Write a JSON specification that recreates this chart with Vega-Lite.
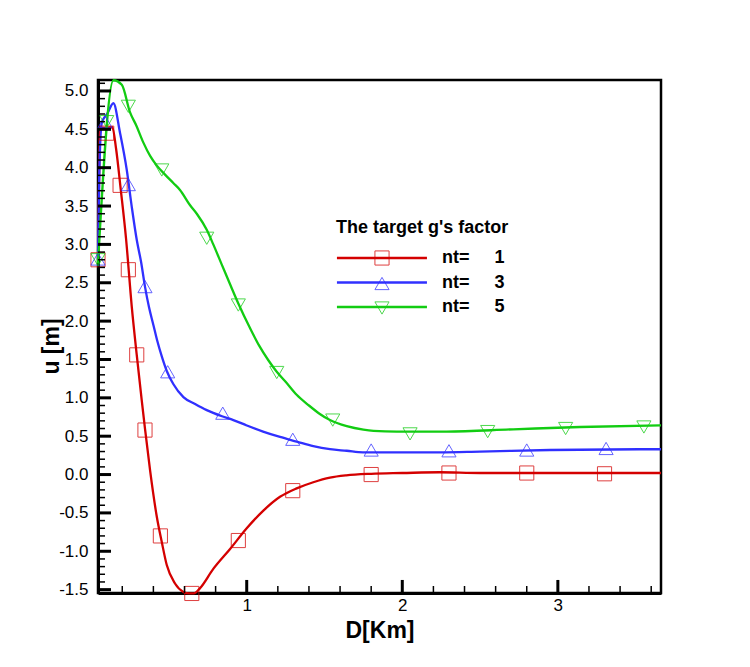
{
  "$schema": "https://vega.github.io/schema/vega-lite/v6.json",
  "width": 563,
  "height": 513,
  "autosize": {"type": "none"},
  "padding": {"left": 98, "top": 80, "right": 89, "bottom": 74},
  "background": "white",
  "config": {
    "font": "Liberation Sans",
    "view": {"stroke": "black", "strokeWidth": 2.5},
    "axis": {"grid": false, "ticks": false}
  },
  "datasets": {
    "curves": [
      {"nt": "1", "d": 0.044, "v": 2.80}, {"nt": "1", "d": 0.050, "v": 3.70}, {"nt": "1", "d": 0.058, "v": 4.52},
      {"nt": "1", "d": 0.100, "v": 4.52}, {"nt": "1", "d": 0.136, "v": 4.53}, {"nt": "1", "d": 0.160, "v": 4.25},
      {"nt": "1", "d": 0.190, "v": 3.72}, {"nt": "1", "d": 0.224, "v": 3.08}, {"nt": "1", "d": 0.261, "v": 2.19},
      {"nt": "1", "d": 0.293, "v": 1.56}, {"nt": "1", "d": 0.325, "v": 0.97}, {"nt": "1", "d": 0.346, "v": 0.60},
      {"nt": "1", "d": 0.379, "v": 0.05}, {"nt": "1", "d": 0.422, "v": -0.55}, {"nt": "1", "d": 0.454, "v": -0.88},
      {"nt": "1", "d": 0.486, "v": -1.18}, {"nt": "1", "d": 0.539, "v": -1.42}, {"nt": "1", "d": 0.593, "v": -1.53},
      {"nt": "1", "d": 0.630, "v": -1.55}, {"nt": "1", "d": 0.660, "v": -1.55}, {"nt": "1", "d": 0.700, "v": -1.48},
      {"nt": "1", "d": 0.785, "v": -1.23}, {"nt": "1", "d": 0.893, "v": -0.97}, {"nt": "1", "d": 1.000, "v": -0.70},
      {"nt": "1", "d": 1.107, "v": -0.47}, {"nt": "1", "d": 1.214, "v": -0.29}, {"nt": "1", "d": 1.321, "v": -0.18},
      {"nt": "1", "d": 1.428, "v": -0.10}, {"nt": "1", "d": 1.535, "v": -0.04}, {"nt": "1", "d": 1.640, "v": -0.01},
      {"nt": "1", "d": 1.800, "v": 0.01}, {"nt": "1", "d": 2.000, "v": 0.02}, {"nt": "1", "d": 2.240, "v": 0.03},
      {"nt": "1", "d": 2.500, "v": 0.02}, {"nt": "1", "d": 3.000, "v": 0.02}, {"nt": "1", "d": 3.663, "v": 0.02},

      {"nt": "3", "d": 0.044, "v": 2.80}, {"nt": "3", "d": 0.052, "v": 3.90}, {"nt": "3", "d": 0.068, "v": 4.58},
      {"nt": "3", "d": 0.105, "v": 4.71}, {"nt": "3", "d": 0.143, "v": 4.84}, {"nt": "3", "d": 0.186, "v": 4.45},
      {"nt": "3", "d": 0.229, "v": 3.97}, {"nt": "3", "d": 0.261, "v": 3.49}, {"nt": "3", "d": 0.293, "v": 3.06},
      {"nt": "3", "d": 0.321, "v": 2.77}, {"nt": "3", "d": 0.346, "v": 2.45}, {"nt": "3", "d": 0.372, "v": 2.18},
      {"nt": "3", "d": 0.400, "v": 1.95}, {"nt": "3", "d": 0.424, "v": 1.75}, {"nt": "3", "d": 0.454, "v": 1.54},
      {"nt": "3", "d": 0.486, "v": 1.35}, {"nt": "3", "d": 0.528, "v": 1.18}, {"nt": "3", "d": 0.593, "v": 1.01},
      {"nt": "3", "d": 0.668, "v": 0.92}, {"nt": "3", "d": 0.743, "v": 0.84}, {"nt": "3", "d": 0.841, "v": 0.76},
      {"nt": "3", "d": 0.914, "v": 0.71}, {"nt": "3", "d": 1.000, "v": 0.64}, {"nt": "3", "d": 1.105, "v": 0.56},
      {"nt": "3", "d": 1.214, "v": 0.49}, {"nt": "3", "d": 1.321, "v": 0.43}, {"nt": "3", "d": 1.428, "v": 0.37},
      {"nt": "3", "d": 1.535, "v": 0.33}, {"nt": "3", "d": 1.643, "v": 0.31}, {"nt": "3", "d": 1.747, "v": 0.29},
      {"nt": "3", "d": 1.857, "v": 0.29}, {"nt": "3", "d": 2.242, "v": 0.29}, {"nt": "3", "d": 2.499, "v": 0.30},
      {"nt": "3", "d": 2.949, "v": 0.32}, {"nt": "3", "d": 3.527, "v": 0.33}, {"nt": "3", "d": 3.663, "v": 0.33},

      {"nt": "5", "d": 0.044, "v": 2.75}, {"nt": "5", "d": 0.143, "v": 5.14}, {"nt": "5", "d": 0.197, "v": 5.08},
      {"nt": "5", "d": 0.250, "v": 4.72}, {"nt": "5", "d": 0.290, "v": 4.55}, {"nt": "5", "d": 0.335, "v": 4.33},
      {"nt": "5", "d": 0.380, "v": 4.15}, {"nt": "5", "d": 0.421, "v": 4.03}, {"nt": "5", "d": 0.475, "v": 3.91},
      {"nt": "5", "d": 0.528, "v": 3.80}, {"nt": "5", "d": 0.571, "v": 3.71}, {"nt": "5", "d": 0.636, "v": 3.51},
      {"nt": "5", "d": 0.679, "v": 3.40}, {"nt": "5", "d": 0.743, "v": 3.19}, {"nt": "5", "d": 0.785, "v": 3.00},
      {"nt": "5", "d": 0.839, "v": 2.74}, {"nt": "5", "d": 0.893, "v": 2.48}, {"nt": "5", "d": 0.946, "v": 2.23},
      {"nt": "5", "d": 1.021, "v": 1.91}, {"nt": "5", "d": 1.080, "v": 1.68}, {"nt": "5", "d": 1.139, "v": 1.49},
      {"nt": "5", "d": 1.193, "v": 1.34}, {"nt": "5", "d": 1.250, "v": 1.21}, {"nt": "5", "d": 1.321, "v": 1.04},
      {"nt": "5", "d": 1.400, "v": 0.90}, {"nt": "5", "d": 1.470, "v": 0.79}, {"nt": "5", "d": 1.535, "v": 0.71},
      {"nt": "5", "d": 1.643, "v": 0.63}, {"nt": "5", "d": 1.750, "v": 0.585}, {"nt": "5", "d": 1.815, "v": 0.57},
      {"nt": "5", "d": 1.964, "v": 0.56}, {"nt": "5", "d": 2.285, "v": 0.56}, {"nt": "5", "d": 2.713, "v": 0.59},
      {"nt": "5", "d": 3.142, "v": 0.62}, {"nt": "5", "d": 3.663, "v": 0.64}
    ],
    "symbols": [
      {"curve": "1", "d": 0.044, "v": 2.80}, {"curve": "1", "d": 0.100, "v": 4.45}, {"curve": "1", "d": 0.186, "v": 3.77},
      {"curve": "1", "d": 0.239, "v": 2.67}, {"curve": "1", "d": 0.293, "v": 1.56}, {"curve": "1", "d": 0.346, "v": 0.58},
      {"curve": "1", "d": 0.445, "v": -0.80}, {"curve": "1", "d": 0.647, "v": -1.55}, {"curve": "1", "d": 0.946, "v": -0.86},
      {"curve": "1", "d": 1.296, "v": -0.21}, {"curve": "1", "d": 1.800, "v": 0.00}, {"curve": "1", "d": 2.300, "v": 0.02},
      {"curve": "1", "d": 2.800, "v": 0.02}, {"curve": "1", "d": 3.300, "v": 0.01},

      {"curve": "3", "d": 0.044, "v": 2.81}, {"curve": "3", "d": 0.089, "v": 4.60}, {"curve": "3", "d": 0.239, "v": 3.78},
      {"curve": "3", "d": 0.346, "v": 2.45}, {"curve": "3", "d": 0.492, "v": 1.34}, {"curve": "3", "d": 0.846, "v": 0.80},
      {"curve": "3", "d": 1.296, "v": 0.46}, {"curve": "3", "d": 1.800, "v": 0.32}, {"curve": "3", "d": 2.300, "v": 0.31},
      {"curve": "3", "d": 2.800, "v": 0.32}, {"curve": "3", "d": 3.310, "v": 0.34},

      {"curve": "5", "d": 0.044, "v": 2.80}, {"curve": "5", "d": 0.100, "v": 4.60}, {"curve": "5", "d": 0.239, "v": 4.80},
      {"curve": "5", "d": 0.454, "v": 3.97}, {"curve": "5", "d": 0.743, "v": 3.08}, {"curve": "5", "d": 0.946, "v": 2.21},
      {"curve": "5", "d": 1.193, "v": 1.33}, {"curve": "5", "d": 1.553, "v": 0.71}, {"curve": "5", "d": 2.050, "v": 0.53},
      {"curve": "5", "d": 2.549, "v": 0.56}, {"curve": "5", "d": 3.050, "v": 0.60}, {"curve": "5", "d": 3.553, "v": 0.62}
    ],
    "xMajor": [{"d": 1}, {"d": 2}, {"d": 3}],
    "xMinor": [
      {"d": 0.2}, {"d": 0.4}, {"d": 0.6}, {"d": 0.8}, {"d": 1.2}, {"d": 1.4}, {"d": 1.6}, {"d": 1.8},
      {"d": 2.2}, {"d": 2.4}, {"d": 2.6}, {"d": 2.8}, {"d": 3.2}, {"d": 3.4}, {"d": 3.6}
    ],
    "yMajor": [
      {"v": -1.5}, {"v": -1.0}, {"v": -0.5}, {"v": 0.0}, {"v": 0.5}, {"v": 1.0}, {"v": 1.5},
      {"v": 2.0}, {"v": 2.5}, {"v": 3.0}, {"v": 3.5}, {"v": 4.0}, {"v": 4.5}, {"v": 5.0}
    ],
    "yMinor": [
      {"v": -1.4}, {"v": -1.3}, {"v": -1.2}, {"v": -1.1}, {"v": -0.9}, {"v": -0.8}, {"v": -0.7}, {"v": -0.6},
      {"v": -0.4}, {"v": -0.3}, {"v": -0.2}, {"v": -0.1}, {"v": 0.1}, {"v": 0.2}, {"v": 0.3}, {"v": 0.4},
      {"v": 0.6}, {"v": 0.7}, {"v": 0.8}, {"v": 0.9}, {"v": 1.1}, {"v": 1.2}, {"v": 1.3}, {"v": 1.4},
      {"v": 1.6}, {"v": 1.7}, {"v": 1.8}, {"v": 1.9}, {"v": 2.1}, {"v": 2.2}, {"v": 2.3}, {"v": 2.4},
      {"v": 2.6}, {"v": 2.7}, {"v": 2.8}, {"v": 2.9}, {"v": 3.1}, {"v": 3.2}, {"v": 3.3}, {"v": 3.4},
      {"v": 3.6}, {"v": 3.7}, {"v": 3.8}, {"v": 3.9}, {"v": 4.1}, {"v": 4.2}, {"v": 4.3}, {"v": 4.4},
      {"v": 4.6}, {"v": 4.7}, {"v": 4.8}, {"v": 4.9}, {"v": 5.1}
    ]
  },
  "resolve": {"axis": {"x": "independent", "y": "independent"}},
  "layer": [
    {
      "data": {"name": "curves"},
      "mark": {"type": "line", "strokeWidth": 2.3, "interpolate": "monotone"},
      "encoding": {
        "x": {
          "field": "d", "type": "quantitative",
          "scale": {"domain": [0.044, 3.663], "nice": false, "zero": false},
          "axis": {
            "orient": "bottom", "values": [1, 2, 3], "format": "d", "grid": false, "ticks": false,
            "labelOverlap": false,
            "title": "D[Km]", "titleFontSize": 23, "titleFontWeight": "bold", "titleColor": "black",
            "titleBaseline": "alphabetic", "titleY": 44,
            "labelFontSize": 17, "labelColor": "black", "labelPadding": 4,
            "domainColor": "black", "domainWidth": 3
          }
        },
        "y": {
          "field": "v", "type": "quantitative",
          "scale": {"domain": [-1.544, 5.143], "nice": false, "zero": false},
          "axis": {
            "orient": "left",
            "values": [-1.5, -1, -0.5, 0, 0.5, 1, 1.5, 2, 2.5, 3, 3.5, 4, 4.5, 5],
            "format": ".1f", "grid": false, "ticks": false, "labelOverlap": false,
            "labelExpr": "replace(datum.label, '\u2212', '-')",
            "title": "u [m]", "titleFontSize": 23, "titleFontWeight": "bold", "titleColor": "black",
            "titleAngle": 270, "titleAlign": "center", "titleBaseline": "middle",
            "titleX": -47, "titleY": 266,
            "labelFontSize": 17, "labelColor": "black", "labelPadding": 10,
            "domainColor": "black", "domainWidth": 3
          }
        },
        "color": {
          "field": "nt", "type": "nominal",
          "scale": {"range": ["#d40000", "#3030ff", "#12cc12"]},
          "legend": {
            "orient": "none", "legendX": 238, "legendY": 139, "padding": 0,
            "title": "The target g's factor", "titleFontSize": 18, "titleFontWeight": "bold",
            "titleColor": "black", "titlePadding": 12,
            "symbolType": "M-1.14,0H11.59", "symbolSize": 200, "symbolStrokeWidth": 2.3,
            "labelExpr": "'nt=\u00a0\u00a0\u00a0\u00a0\u00a0' + datum.label",
            "labelFontSize": 18, "labelFontWeight": "bold", "labelColor": "black",
            "labelOffset": 88, "rowPadding": 6.5
          }
        }
      }
    },
    {
      "data": {"name": "symbols"},
      "mark": {"type": "point", "filled": false, "size": 200, "strokeWidth": 1, "opacity": 0.75},
      "encoding": {
        "x": {"field": "d", "type": "quantitative", "axis": null},
        "y": {"field": "v", "type": "quantitative", "axis": null},
        "shape": {
          "field": "curve", "type": "nominal",
          "scale": {"range": ["square", "triangle-up", "triangle-down"]},
          "legend": {
            "orient": "none", "legendX": 275, "legendY": 169, "padding": 0,
            "title": null,
            "symbolSize": 200, "symbolStrokeWidth": 1, "symbolOpacity": 0.75,
            "labelExpr": "''", "labelFontSize": 18, "labelOffset": 88, "rowPadding": 6.5
          }
        },
        "stroke": {
          "field": "curve", "type": "nominal",
          "scale": {"range": ["#d40000", "#3030ff", "#12cc12"]},
          "legend": {
            "orient": "none", "legendX": 275, "legendY": 169, "padding": 0,
            "title": null,
            "symbolSize": 200, "symbolStrokeWidth": 1, "symbolOpacity": 0.75,
            "labelExpr": "''", "labelFontSize": 18, "labelOffset": 88, "rowPadding": 6.5
          }
        }
      }
    },
    {
      "data": {"name": "xMajor"},
      "mark": {"type": "rule", "color": "black", "strokeWidth": 3},
      "encoding": {
        "x": {"field": "d", "type": "quantitative", "axis": null},
        "y": {"datum": -1.544, "type": "quantitative", "axis": null},
        "y2": {"datum": -1.374}
      }
    },
    {
      "data": {"name": "xMinor"},
      "mark": {"type": "rule", "color": "black", "strokeWidth": 1.5},
      "encoding": {
        "x": {"field": "d", "type": "quantitative", "axis": null},
        "y": {"datum": -1.544, "type": "quantitative", "axis": null},
        "y2": {"datum": -1.453}
      }
    },
    {
      "data": {"name": "yMajor"},
      "mark": {"type": "rule", "color": "black", "strokeWidth": 3},
      "encoding": {
        "y": {"field": "v", "type": "quantitative", "axis": null},
        "x": {"datum": 0.044, "type": "quantitative", "axis": null},
        "x2": {"datum": 0.1275}
      }
    },
    {
      "data": {"name": "yMinor"},
      "mark": {"type": "rule", "color": "black", "strokeWidth": 1.5},
      "encoding": {
        "y": {"field": "v", "type": "quantitative", "axis": null},
        "x": {"datum": 0.044, "type": "quantitative", "axis": null},
        "x2": {"datum": 0.089}
      }
    }
  ]
}
